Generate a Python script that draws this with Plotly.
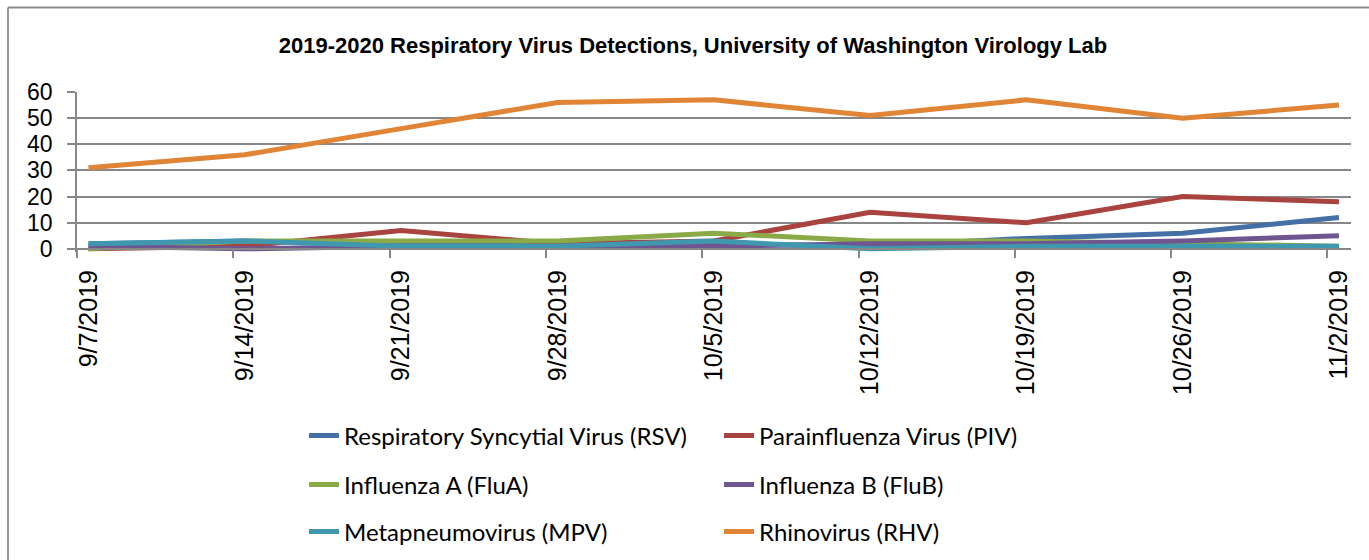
import plotly.graph_objects as go

# Weekly detections, week starting date
weeks = ["9/7/2019", "9/14/2019", "9/21/2019", "9/28/2019", "10/5/2019",
         "10/12/2019", "10/19/2019", "10/26/2019", "11/2/2019"]

rsv = [2, 3, 2, 1, 2, 1, 4, 6, 12]
piv = [0, 1, 7, 2, 3, 14, 10, 20, 18]
flua = [0, 3, 3, 3, 6, 3, 3, 2, 1]
flub = [1, 0, 1, 1, 1, 2, 2, 3, 5]
mpv = [2, 3, 1, 1, 3, 0, 1, 1, 1]
rhv = [31, 36, 46, 56, 57, 51, 57, 50, 55]

series_names = [
    "Respiratory Syncytial Virus (RSV)",
    "Parainfluenza Virus (PIV)",
    "Influenza A (FluA)",
    "Influenza B (FluB)",
    "Metapneumovirus (MPV)",
    "Rhinovirus (RHV)",
]
series_values = [rsv, piv, flua, flub, mpv, rhv]
series_colors = ["#4470A6", "#A94340", "#8AAA48", "#6F5691", "#3F98AE", "#E08436"]
legend_ids = ["legend", "legend", "legend2", "legend2", "legend3", "legend3"]

W, H = 1369, 560
ML, MR, MT, MB = 77, 18, 92, 308
Y_MIN, Y_MAX = -1.2, 60
X_MIN, X_MAX = -0.0736, 8.077
TICK_SHIFT = 0.0736
GRID = "#878787"

xs = list(range(len(weeks)))

fig = go.Figure()
for name, vals, col, lg in zip(series_names, series_values, series_colors, legend_ids):
    fig.add_trace(go.Scatter(
        x=xs, y=vals, name=name, mode="lines",
        line=dict(color=col, width=5),
        legend=lg, hoverinfo="x+y+name",
    ))

# invisible helper so the secondary x axis (tick marks + baseline) is drawn
fig.add_trace(go.Scatter(x=[X_MIN], y=[0], xaxis="x2", mode="markers",
                         marker=dict(opacity=0), showlegend=False, hoverinfo="skip"))

plot_h = H - MT - MB
zero_pos = (0 - Y_MIN) / (Y_MAX - Y_MIN)

legend_font = dict(family="Lato, Noto Sans, sans-serif", size=24, color="#000000")


def legend_cfg(py):
    return dict(
        orientation="h", xref="container", yref="container",
        x=304 / W, y=1 - py / H, xanchor="left", yanchor="middle",
        entrywidth=370, entrywidthmode="pixels",
        font=legend_font, bgcolor="rgba(0,0,0,0)", borderwidth=0,
        traceorder="normal",
    )


# outer chart frame (left and top edges visible)
pw = W - ML - MR


def px_to_paper_x(px):
    return (px - ML) / pw


def py_to_paper_y(py):
    return (MT + plot_h - py) / plot_h


fig.update_layout(
    width=W, height=H,
    margin=dict(l=ML, r=MR, t=MT, b=MB, autoexpand=False),
    paper_bgcolor="white", plot_bgcolor="white",
    title=dict(
        text="<b>2019-2020 Respiratory Virus Detections, University of Washington Virology Lab</b>",
        font=dict(family="Liberation Sans, Arial, sans-serif", size=22, color="#000000"),
        xref="container", yref="container",
        x=693 / W, y=1 - 45 / H, xanchor="center", yanchor="middle",
    ),
    xaxis=dict(
        range=[X_MIN, X_MAX], tickmode="array", tickvals=xs, ticktext=weeks,
        tickangle=-90, ticks="", showgrid=False, zeroline=False, showline=False,
        tickfont=dict(family="Liberation Sans, Arial, sans-serif", size=25, color="#000000"),
        ticklabelstandoff=12,
    ),
    xaxis2=dict(
        overlaying="x", anchor="free", position=zero_pos, side="bottom",
        range=[X_MIN, X_MAX], tickmode="array",
        tickvals=[i - TICK_SHIFT for i in xs],
        ticks="outside", ticklen=8, tickwidth=1.5, tickcolor=GRID,
        showticklabels=False, showgrid=False, zeroline=False,
        showline=True, linecolor=GRID, linewidth=1.5,
    ),
    yaxis=dict(
        range=[Y_MIN, Y_MAX], tickmode="array", tickvals=[0, 10, 20, 30, 40, 50, 60],
        ticks="outside", ticklen=8, tickwidth=1.5, tickcolor=GRID,
        showline=True, linecolor=GRID, linewidth=1.5,
        showgrid=True, gridcolor=GRID, gridwidth=1.5, zeroline=False,
        tickfont=dict(family="Liberation Sans, Arial, sans-serif", size=23, color="#000000"),
        ticklabelstandoff=10,
    ),
    legend=legend_cfg(436),
    legend2=legend_cfg(485),
    legend3=legend_cfg(532),
    shapes=[
        dict(type="line", xref="paper", yref="paper",
             x0=px_to_paper_x(8), x1=px_to_paper_x(W + 10),
             y0=py_to_paper_y(7.5), y1=py_to_paper_y(7.5),
             line=dict(color="#8c8c8c", width=1.8)),
        dict(type="line", xref="paper", yref="paper",
             x0=px_to_paper_x(8), x1=px_to_paper_x(8),
             y0=py_to_paper_y(7.5), y1=py_to_paper_y(H + 10),
             line=dict(color="#8c8c8c", width=1.8)),
    ],
    showlegend=True,
)

fig.write_html("out.html")
